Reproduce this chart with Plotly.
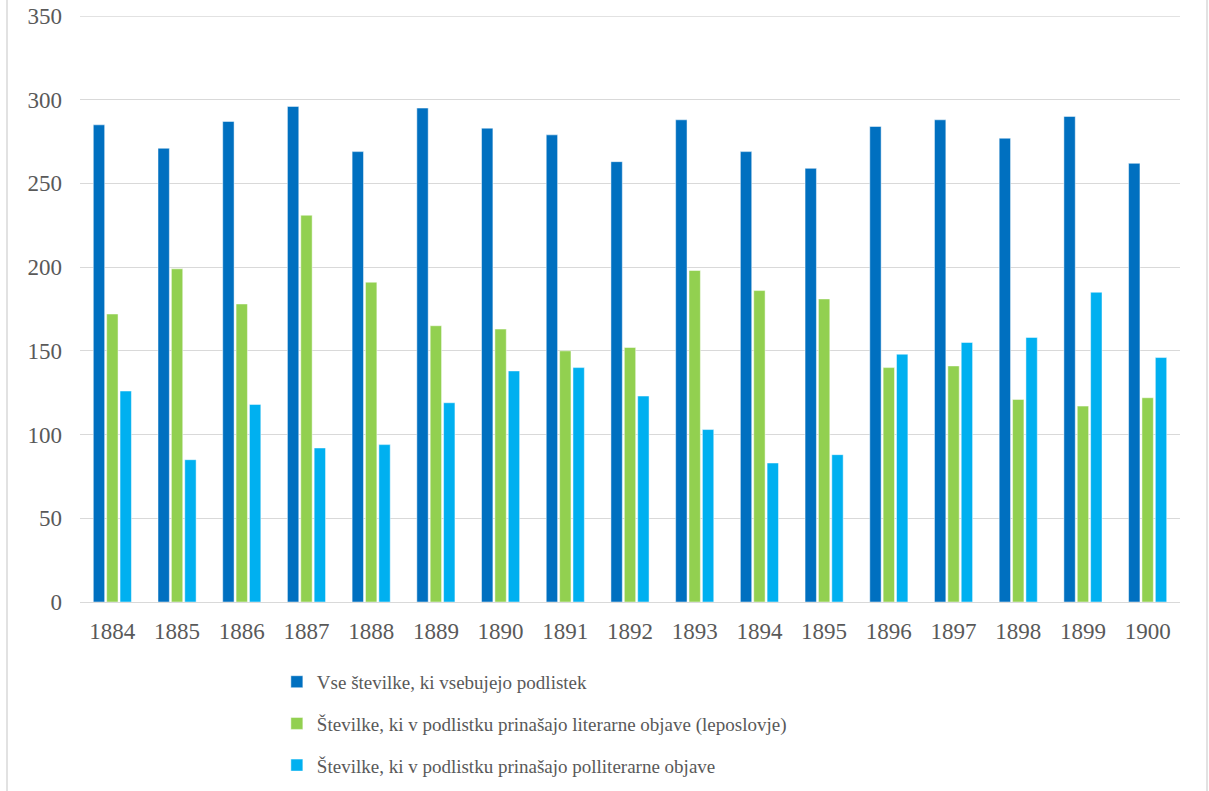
import plotly.graph_objects as go

years = [str(y) for y in range(1884, 1901)]

vse = [285, 271, 287, 296, 269, 295, 283, 279, 263, 288, 269, 259, 284, 288, 277, 290, 262]
literarne = [172, 199, 178, 231, 191, 165, 163, 150, 152, 198, 186, 181, 140, 141, 121, 117, 122]
polliterarne = [126, 85, 118, 92, 94, 119, 138, 140, 123, 103, 83, 88, 148, 155, 158, 185, 146]

names = [
    "Vse številke, ki vsebujejo podlistek",
    "Številke, ki v podlistku prinašajo literarne objave (leposlovje)",
    "Številke, ki v podlistku prinašajo polliterarne objave",
]
colors = ["#0070C0", "#92D050", "#00B0F0"]

FONT = "Liberation Serif"
Y_MAX = 350

fig = go.Figure()
for i, (vals, name, col) in enumerate(zip([vse, literarne, polliterarne], names, colors)):
    fig.add_trace(go.Bar(
        x=years, y=vals, name=name,
        marker=dict(color=col, line=dict(color="rgba(255,255,255,0.6)", width=0.8)),
        legendgroup=f"g{i}",
    ))

fig.update_layout(
    width=1209, height=791,
    margin=dict(l=80, r=29, t=16, b=189, autoexpand=False),
    paper_bgcolor="white", plot_bgcolor="white",
    barmode="group", bargap=0.38, bargroupgap=0.15,
    font=dict(family=FONT, size=19, color="#595959"),
    showlegend=True,
    legend=dict(
        orientation="v", xref="container", yref="container",
        x=0.229, xanchor="left", y=0.162, yanchor="top",
        font=dict(family=FONT, size=19, color="#595959"),
        tracegroupgap=14, itemwidth=30,
        bgcolor="rgba(0,0,0,0)",
    ),
)
fig.update_yaxes(
    range=[0, Y_MAX], tick0=0, dtick=50, showgrid=True, gridcolor="#D9D9D9", gridwidth=1.3,
    zeroline=False, showline=False, ticks="", ticklabelstandoff=17, automargin=False,
    tickfont=dict(family=FONT, size=23, color="#595959"),
)
fig.update_xaxes(
    showline=True, linecolor="#D9D9D9", linewidth=1.3, ticks="", automargin=False,
    tickfont=dict(family=FONT, size=23, color="#595959"), ticklabelstandoff=8,
)

# top gridline sits on the plot edge, draw it explicitly
fig.add_shape(type="line", xref="paper", yref="y", x0=0, x1=1, y0=Y_MAX, y1=Y_MAX,
              line=dict(color="#D9D9D9", width=1.3), layer="below")

# chart area border (left and right edges visible)
for xpx in [7, 1207]:
    xpos = (xpx - 80) / 1100
    fig.add_shape(type="line", xref="paper", yref="paper", x0=xpos, x1=xpos,
                  y0=-0.4, y1=1.1, line=dict(color="#D9D9D9", width=1.5))

# page has a default body margin; drop it so the figure sits at the window's corner
fig.write_html("out.html", config={"displayModeBar": False},
               post_script="document.body.style.margin='0';")
